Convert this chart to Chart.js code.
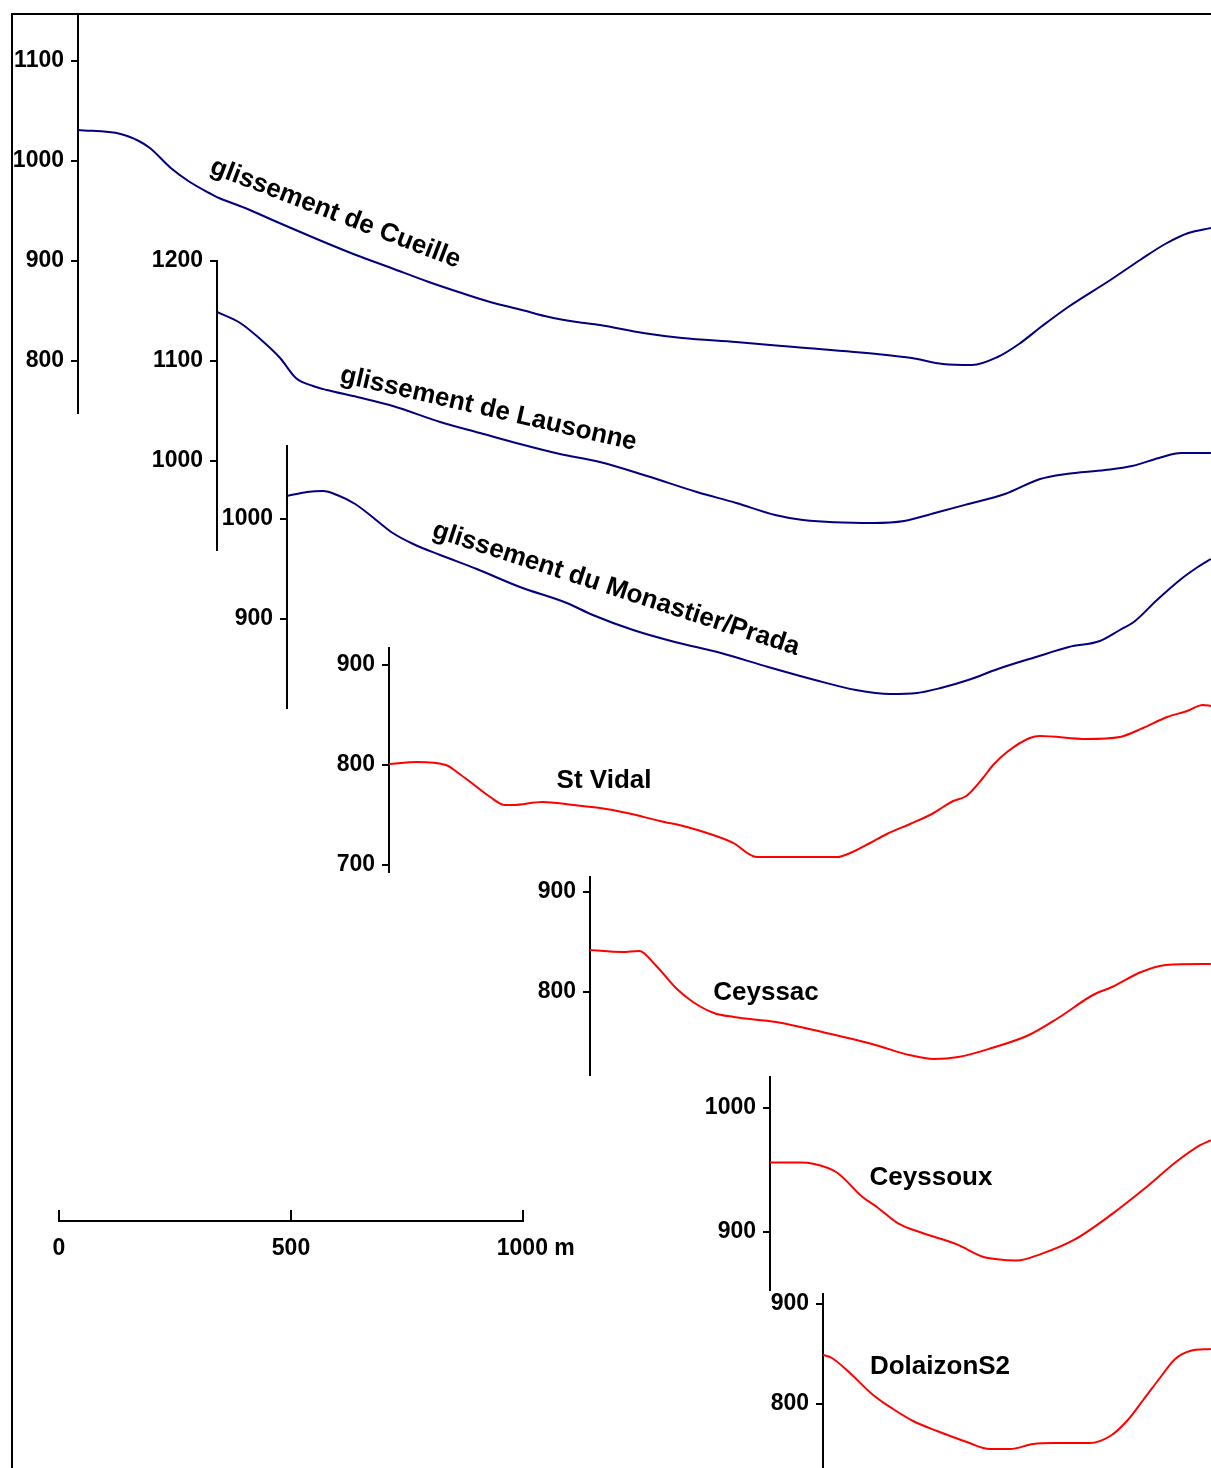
<!DOCTYPE html>
<html><head><meta charset="utf-8">
<script src="https://cdn.jsdelivr.net/npm/chart.js@4/dist/chart.umd.min.js"></script>
<style>
html,body{margin:0;padding:0;background:#fff;overflow:hidden;width:1211px;height:1468px;}
#frame{position:absolute;left:11px;top:13px;width:1400px;height:1600px;border-top:2px solid #000;border-left:2px solid #000;box-sizing:border-box;}
canvas{position:absolute;left:0;top:0;}
</style></head><body>
<div id="frame"></div>
<div id="wrap"></div>
<script>
// ---- DATA (distance along profile in m, elevation in m) ----
const profileNames = ['glissement de Cueille','glissement de Lausonne','glissement du Monastier/Prada','St Vidal','Ceyssac','Ceyssoux','DolaizonS2'];

const cueilleDist = [0,92,131,155,200,241,283,304,360,429,530,599,675,756,820,888,957,1015,1075,1125,1218,1302,1418,1545,1722,1797,1864,1927,1982,2028,2078,2134,2225,2289,2343,2393,2442];
const cueilleElev = [1031,1027,1020,1013,993,979,968,963,953,939,919,906,893,879,869,859,851,844,839,836,828,823,819,814,807,803,797,796,804,817,835,854,881,901,917,928,933];
const cueilleTicks = [800,900,1000,1100];

const lausonneDist = [0,50,93,136,170,207,237,302,379,481,567,653,739,825,927,1034,1119,1203,1263,1414,1481,1547,1619,1698,1774,1830,1914,1972,2030,2078,2142];
const lausonneElev = [1149,1138,1122,1103,1083,1075,1071,1064,1055,1039,1028,1017,1007,999,985,969,958,946,941,938,940,948,957,967,982,987,991,995,1003,1008,1008];
const lausonneTicks = [1000,1100,1200];

const monastierDist = [0,43,78,108,147,200,228,272,330,409,502,603,659,746,836,935,1037,1138,1226,1300,1358,1409,1468,1532,1614,1685,1752,1795,1825,1875,1927,1963,1991];
const monastierElev = [1023,1027,1028,1024,1015,996,986,975,964,950,932,916,904,889,877,866,852,839,829,825,826,831,839,850,862,872,878,889,897,919,940,952,960];
const monastierTicks = [900,1000];

const stVidalDist = [0,60,123,149,181,218,250,267,330,397,455,513,584,642,692,746,772,793,966,994,1037,1073,1123,1170,1194,1216,1244,1280,1302,1332,1381,1403,1504,1575,1625,1677,1720,1754,1772];
const stVidalElev = [801,803,800,792,781,768,760,760,763,760,757,752,744,738,731,721,712,708,708,712,722,731,741,751,758,764,769,787,800,813,827,829,826,828,837,848,854,860,859];
const stVidalTicks = [700,800,900];

const ceyssacDist = [0,69,106,141,185,222,267,310,401,509,615,688,741,794,866,946,1009,1084,1125,1188,1241,1338];
const ceyssacElev = [842,840,841,827,804,790,779,775,770,759,747,737,733,735,744,757,774,797,805,820,827,828];
const ceyssacTicks = [800,900];

const ceyssouxDist = [0,65,93,144,200,231,276,330,403,459,489,532,582,657,739,804,877,927,950];
const ceyssouxElev = [956,956,955,948,928,920,907,899,890,880,878,877,882,894,915,934,957,970,974];
const ceyssouxTicks = [900,1000];

const dolaizonDist = [0,19,58,108,151,194,246,310,360,403,453,496,575,619,655,690,726,759,791,836];
const dolaizonElev = [849,846,831,809,795,783,773,762,755,755,760,761,761,768,783,804,826,845,853,855];
const dolaizonTicks = [800,900];

const scaleBarTicks = [0,500,1000];
const scaleBarLabels = ['0','500','\u00a0\u00a0\u00a0\u00a01000 m'];

// ---- LAYOUT / STYLE ----
const W = 1211, H = 1468;
const PX_PER_M = 0.464;   // horizontal scale (px per metre)
const YW = 70;            // fixed width of each y axis block
const NAVY = '#000080', RED = '#ff0000';
const TICK_FONT = {family:'"Liberation Sans", Arial, sans-serif', size:23, weight:'bold'};
const LABEL_FONT = 'bold 26px "Liberation Sans", Arial, sans-serif';

const profiles = [
  {dist:cueilleDist, elev:cueilleElev, ticks:cueilleTicks, name:profileNames[0], color:NAVY,
   axisX:78, top:14, bottom:413, refTick:1100, refY:61, k:1, lx:335.5, ly:213.5, rot:21},
  {dist:lausonneDist, elev:lausonneElev, ticks:lausonneTicks, name:profileNames[1], color:NAVY,
   axisX:217, top:261, bottom:550, refTick:1200, refY:261, k:1, lx:488.5, ly:409, rot:13},
  {dist:monastierDist, elev:monastierElev, ticks:monastierTicks, name:profileNames[2], color:NAVY,
   axisX:287, top:446, bottom:708, refTick:1000, refY:519, k:1, lx:616, ly:589, rot:18},
  {dist:stVidalDist, elev:stVidalElev, ticks:stVidalTicks, name:profileNames[3], color:RED,
   axisX:389, top:648, bottom:872, refTick:900, refY:665, k:1, lx:604, ly:781, rot:0},
  {dist:ceyssacDist, elev:ceyssacElev, ticks:ceyssacTicks, name:profileNames[4], color:RED,
   axisX:590, top:877, bottom:1075, refTick:900, refY:892, k:1, lx:766, ly:993, rot:0},
  {dist:ceyssouxDist, elev:ceyssouxElev, ticks:ceyssouxTicks, name:profileNames[5], color:RED,
   axisX:770, top:1077, bottom:1290, refTick:1000, refY:1108, k:1.24, lx:931, ly:1178, rot:0},
  {dist:dolaizonDist, elev:dolaizonElev, ticks:dolaizonTicks, name:profileNames[6], color:RED,
   axisX:823, top:1294, bottom:1468, refTick:900, refY:1304, k:1, lx:940, ly:1367, rot:0}
];

const wrap = document.getElementById('wrap');
function newCanvas(){
  const c = document.createElement('canvas');
  c.width = W; c.height = H; c.style.width = W+'px'; c.style.height = H+'px';
  wrap.appendChild(c);
  return c;
}

const labelPlugin = {
  id:'profileLabel',
  afterDatasetsDraw(chart, args, opts){
    if(!opts || !opts.text) return;
    const ctx = chart.ctx;
    ctx.save();
    ctx.font = LABEL_FONT;
    ctx.fillStyle = '#000';
    ctx.textAlign = 'center';
    ctx.textBaseline = 'middle';
    ctx.translate(opts.x, opts.y);
    ctx.rotate(opts.rot * Math.PI/180);
    ctx.fillText(opts.text, 0, 0);
    ctx.restore();
  }
};

profiles.forEach(p => {
  const elevMax = p.refTick + (p.refY - p.top)/p.k;
  const elevMin = p.refTick - (p.bottom - p.refY)/p.k;
  const xMax = (W - p.axisX)/PX_PER_M;
  new Chart(newCanvas(), {
    type:'line',
    data:{datasets:[{
      data:p.dist.map((d,i)=>({x:d, y:p.elev[i]})),
      borderColor:p.color, borderWidth:2, pointRadius:0, cubicInterpolationMode:'monotone', fill:false
    }]},
    options:{
      responsive:false, animation:false, devicePixelRatio:1, events:[],
      layout:{autoPadding:false, padding:{left:p.axisX-YW, top:p.top, right:0, bottom:H-p.bottom}},
      plugins:{legend:{display:false}, tooltip:{enabled:false},
               profileLabel:{text:p.name, x:p.lx, y:p.ly, rot:p.rot}},
      scales:{
        x:{type:'linear', display:false, min:0, max:xMax},
        y:{type:'linear', position:'left', min:elevMin, max:elevMax,
           afterFit:s=>{s.width = YW; s.paddingTop = 0; s.paddingBottom = 0;},
           afterBuildTicks:s=>{s.ticks = p.ticks.map(v=>({value:v}));},
           border:{display:true, color:'#000', width:2},
           grid:{display:true, drawOnChartArea:false, drawTicks:true, tickLength:7, color:'#000', lineWidth:2},
           ticks:{color:'#000', padding:7, font:TICK_FONT, autoSkip:false, callback:v=>String(v)}}
      }
    },
    plugins:[labelPlugin]
  });
});

// ---- scale bar (0 - 1000 m) ----
const SB_LEFT = 59, SB_RIGHT = 523, SB_TOP = 1210, SB_LINE = 1221, XH = 40;
new Chart(newCanvas(), {
  type:'line',
  data:{datasets:[]},
  options:{
    responsive:false, animation:false, devicePixelRatio:1, events:[],
    layout:{autoPadding:false, padding:{left:SB_LEFT, right:W-SB_RIGHT, top:SB_TOP, bottom:H-SB_LINE-XH}},
    plugins:{legend:{display:false}, tooltip:{enabled:false}},
    scales:{
      x:{type:'linear', position:'bottom', min:0, max:1000,
         afterFit:s=>{s.height = XH; s.paddingLeft = 0; s.paddingRight = 0;},
         afterBuildTicks:s=>{s.ticks = scaleBarTicks.map(v=>({value:v}));},
         border:{display:true, color:'#000', width:2},
         grid:{display:true, drawOnChartArea:true, drawTicks:false, color:'#000', lineWidth:2},
         ticks:{color:'#000', padding:14, font:TICK_FONT, maxRotation:0, minRotation:0, autoSkip:false,
                callback:(v,i)=>scaleBarLabels[i]}},
      y:{display:false, min:0, max:1}
    }
  }
});
</script>
</body></html>
